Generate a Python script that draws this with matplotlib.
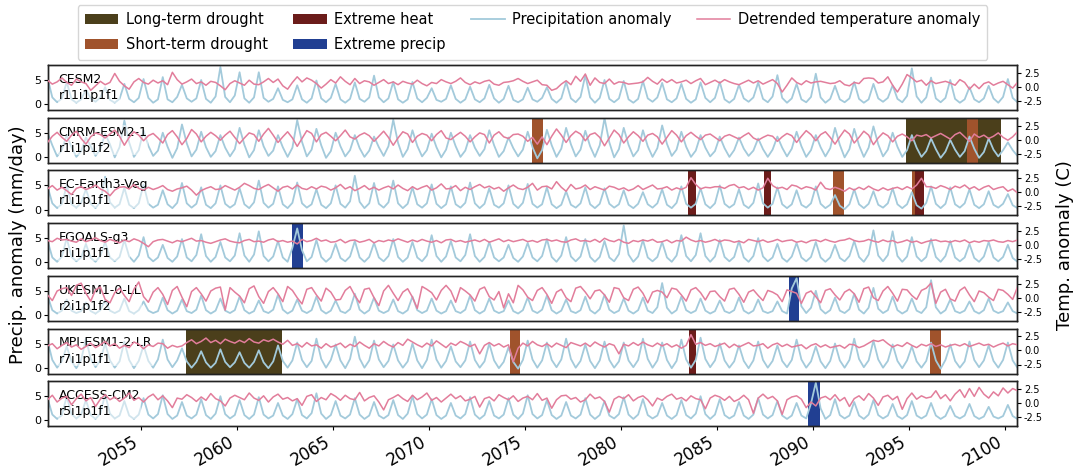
import numpy as np
import matplotlib
matplotlib.use("Agg")
import matplotlib.pyplot as plt
from matplotlib.patches import Patch
from matplotlib.lines import Line2D

# ---------------- data ----------------
MODELS = ["CESM2", "CNRM-ESM2-1", "EC-Earth3-Veg", "FGOALS-g3",
          "UKESM1-0-LL", "MPI-ESM1-2-LR", "ACCESS-CM2"]
MEMBERS = ["r11i1p1f1", "r1i1p1f2", "r1i1p1f1", "r1i1p1f1",
           "r2i1p1f2", "r7i1p1f1", "r5i1p1f1"]
FIRST_YEAR = 2050
SAMPLES_PER_YEAR = 4
XTICKS = [2055, 2060, 2065, 2070, 2075, 2080, 2085, 2090, 2095, 2100]

# precipitation anomaly (mm/day), quarterly samples 2050-2100
PR_CESM2 = [
 5.5,1.4,0.4,1.2, 4.6,1.0,0.3,1.0, 3.0,1.2,0.5,1.4, 3.5,0.9,0.3,1.1, 4.2,1.1,0.4,1.3,
 5.2,1.3,0.3,1.0, 5.6,1.0,0.4,1.5, 4.0,1.2,0.5,1.2, 5.0,1.1,0.3,1.6, 7.7,1.5,0.4,1.8,
 6.6,1.2,0.3,1.4, 6.6,1.3,0.5,1.1, 3.3,0.9,0.4,1.0, 3.9,1.0,0.3,1.2, 4.9,1.2,0.4,1.3,
 4.2,1.0,0.3,1.1, 4.5,1.1,0.5,1.4, 5.9,1.4,0.4,1.2, 4.6,1.0,0.3,1.0, 4.6,1.2,0.4,1.3,
 3.3,0.9,0.5,1.1, 3.9,1.1,0.3,1.0, 3.6,1.0,0.4,1.2, 4.0,1.2,0.3,1.1, 3.8,0.9,0.4,1.0,
 3.4,1.0,0.5,1.3, 3.5,1.1,0.3,1.2, 4.6,1.2,0.4,1.5, 6.0,1.4,0.3,1.3, 5.0,1.1,0.4,1.2,
 4.8,1.0,0.3,1.1, 4.8,1.2,0.5,1.4, 4.4,1.0,0.4,1.2, 4.2,1.1,0.3,1.0, 4.5,1.3,0.4,1.3,
 4.6,1.0,0.3,1.1, 4.0,1.2,0.5,1.4, 4.5,1.1,0.4,1.6, 6.0,1.3,0.3,1.2, 4.2,1.0,0.4,1.5,
 6.3,1.4,0.3,1.1, 3.8,1.0,0.4,1.2, 4.6,1.1,0.3,1.0, 4.2,1.2,0.5,1.3, 3.9,1.1,0.4,1.7,
 7.4,1.6,0.3,1.4, 5.5,1.2,0.4,1.3, 5.0,1.1,0.3,1.0, 3.5,1.0,0.4,1.2, 3.8,1.2,0.3,1.5,
 5.2,1.3,0.4,1.1]
PR_CNRM = [
 5.0,2.4,0.1,1.5, 4.5,2.0,0.0,1.2, 4.0,2.2,0.2,1.6, 4.8,2.6,-0.1,2.0, 7.5,3.0,0.0,1.4,
 5.5,2.3,0.2,1.3, 5.0,2.1,-0.2,1.8, 6.7,2.8,0.1,1.5, 5.2,2.0,0.0,1.2, 4.5,1.9,0.1,1.6,
 6.0,2.5,-0.1,1.4, 5.5,2.2,0.2,1.3, 4.5,2.0,0.0,1.9, 7.6,3.1,0.1,1.5, 5.8,2.4,-0.2,1.2,
 5.0,2.2,0.1,1.4, 4.5,1.8,0.0,1.3, 4.2,2.0,0.2,2.2, 7.7,2.9,0.0,1.6, 5.5,2.3,0.1,1.4,
 4.8,2.0,-0.1,1.5, 5.0,2.2,0.0,1.3, 4.5,1.9,0.2,1.6, 5.5,2.4,0.0,1.2, 4.0,1.8,0.1,1.5,
 5.2,2.0,-0.3,1.4, 5.6,2.4,0.0,1.7, 6.0,2.6,0.1,1.5, 5.4,2.2,0.0,2.4, 8.0,3.0,-0.1,1.6,
 6.0,2.5,0.1,1.4, 5.5,2.2,0.0,1.8, 6.5,2.7,0.2,1.5, 5.2,2.1,0.0,1.3, 4.5,1.9,0.1,1.2,
 4.2,1.8,0.0,1.4, 4.0,1.7,0.2,1.3, 3.8,1.6,0.0,1.5, 4.2,1.9,0.1,1.7, 5.2,2.2,0.0,1.4,
 4.5,2.0,0.1,1.8, 6.0,2.5,-0.1,1.6, 5.8,2.4,0.0,1.9, 6.3,2.6,0.1,1.5, 5.0,2.1,0.0,1.4,
 4.5,1.9,0.0,1.2, 3.8,1.6,-0.2,1.1, 3.5,1.5,0.0,1.2, 4.2,1.7,-0.2,1.0, 3.8,1.5,0.1,1.4,
 3.0,1.4,0.2,1.6]
PR_ECEARTH = [
 4.8,1.3,0.3,1.2, 5.0,1.1,0.4,1.4, 4.2,1.2,0.3,1.6, 6.8,1.5,0.4,1.1, 4.5,1.0,0.3,1.3,
 5.2,1.2,0.4,1.0, 4.0,1.1,0.3,1.4, 5.5,1.3,0.4,1.2, 4.6,1.0,0.3,1.3, 5.0,1.2,0.4,1.1,
 4.4,1.1,0.3,1.5, 6.0,1.4,0.4,1.2, 4.8,1.1,0.3,1.4, 5.6,1.3,0.4,1.1, 4.2,1.0,0.3,1.3,
 5.0,1.2,0.4,1.7, 7.0,1.6,0.3,1.3, 5.5,1.2,0.4,1.5, 6.0,1.3,0.3,1.2, 4.6,1.1,0.4,1.3,
 5.2,1.2,0.3,1.1, 4.8,1.1,0.4,1.4, 5.6,1.3,0.3,1.2, 4.4,1.0,0.4,1.3, 5.0,1.2,0.3,1.4,
 5.3,1.2,0.4,1.1, 4.6,1.1,0.3,1.0, 3.8,1.0,0.4,1.3, 4.6,1.1,0.3,1.2, 4.4,1.2,0.4,1.1,
 4.0,1.0,0.3,1.2, 3.6,1.1,0.4,1.3, 4.2,1.0,0.3,1.4, 4.8,1.2,0.4,1.2, 4.4,1.1,0.3,1.3,
 5.0,1.2,0.4,1.1, 4.2,1.0,0.3,1.4, 5.4,1.3,0.4,1.2, 4.6,1.1,0.3,1.1, 4.0,1.0,0.4,1.3,
 4.8,1.2,0.3,1.0, 3.0,0.8,0.1,1.1, 4.2,1.1,0.3,1.2, 3.8,1.0,0.4,1.3, 4.4,1.1,0.3,1.1,
 3.6,0.9,0.2,1.4, 4.8,1.2,0.3,1.2, 4.6,1.1,0.4,1.3, 4.2,1.0,0.3,1.1, 3.8,1.0,0.4,1.2,
 3.2,0.9,0.3,1.0]
PR_FGOALS = [
 4.5,1.0,0.1,1.2, 5.0,1.1,0.2,1.0, 3.8,0.9,0.1,1.3, 4.2,1.0,0.2,1.1, 4.6,1.2,0.1,1.4,
 5.2,1.1,0.2,1.0, 3.6,0.9,0.1,1.2, 4.8,1.0,0.2,1.5, 5.8,1.3,0.1,1.1, 4.2,1.0,0.2,1.4,
 6.0,1.4,0.1,1.6, 6.4,1.3,0.2,1.2, 4.4,1.0,0.1,3.0, 7.0,2.5,0.2,1.1, 4.6,1.1,0.1,1.0,
 3.8,0.9,0.2,1.2, 4.4,1.0,0.1,1.1, 4.0,1.0,0.2,1.3, 4.8,1.1,0.1,1.0, 4.2,1.0,0.2,1.4,
 5.6,1.3,0.1,1.2, 4.4,1.0,0.2,1.5, 5.8,1.3,0.1,1.1, 4.2,1.0,0.2,1.0, 3.6,0.9,0.1,1.2,
 4.0,1.0,0.2,1.3, 4.8,1.1,0.1,1.4, 5.2,1.2,0.2,1.2, 4.8,1.1,0.1,1.1, 4.4,1.0,0.2,1.7,
 7.6,1.6,0.1,1.2, 4.6,1.0,0.2,1.1, 4.2,1.0,0.1,1.4, 5.6,1.3,0.2,1.5, 6.0,1.3,0.1,1.2,
 4.6,1.1,0.2,1.1, 4.4,1.0,0.1,1.3, 5.0,1.2,0.2,1.0, 3.8,0.9,0.1,1.2, 4.0,1.0,0.2,1.1,
 4.2,1.0,0.1,1.0, 3.6,0.9,0.2,1.3, 4.4,1.1,0.1,1.6, 6.6,1.4,0.2,1.5, 6.4,1.3,0.1,1.2,
 5.2,1.2,0.2,1.1, 4.8,1.1,0.1,1.3, 4.4,1.0,0.2,1.0, 3.8,0.9,0.1,1.2, 4.2,1.0,0.2,1.1,
 3.6,0.9,0.1,1.0]
PR_UKESM = [
 4.0,1.0,0.3,0.9, 3.2,0.9,0.4,0.8, 2.6,0.8,0.3,1.0, 3.0,0.9,0.4,0.9, 3.4,0.8,0.3,1.0,
 2.8,0.9,0.4,0.8, 3.6,1.0,0.3,0.9, 3.2,0.8,0.4,1.1, 4.0,1.0,0.3,0.9, 3.4,0.9,0.4,1.0,
 3.8,1.0,0.3,0.8, 3.0,0.8,0.4,1.1, 4.2,1.1,0.3,0.9, 3.2,0.9,0.4,1.0, 3.8,1.0,0.3,0.9,
 3.0,0.8,0.4,1.2, 4.4,1.1,0.3,1.0, 3.6,0.9,0.4,0.9, 3.2,0.8,0.3,1.0, 3.8,1.0,0.4,0.9,
 3.4,0.9,0.3,0.8, 3.0,0.8,0.4,1.1, 4.0,1.0,0.3,0.9, 3.4,0.9,0.4,0.8, 3.0,0.8,0.3,1.0,
 3.6,0.9,0.4,1.1, 4.0,1.0,0.3,0.9, 3.2,0.8,0.4,1.0, 3.8,1.0,0.3,1.2, 4.2,1.1,0.4,0.9,
 3.4,0.9,0.3,1.0, 3.6,0.9,0.4,1.6, 6.6,1.5,0.3,1.0, 3.8,1.0,0.4,0.9, 3.4,0.9,0.3,0.8,
 3.0,0.8,0.4,1.0, 3.6,0.9,0.3,0.9, 3.2,0.8,0.4,0.8, 2.8,0.8,0.3,5.5, 7.6,1.8,0.4,1.5,
 5.0,1.2,0.3,1.0, 3.6,0.9,0.4,1.2, 4.4,1.1,0.3,1.5, 5.6,1.3,0.4,1.0, 3.8,1.0,0.3,0.9,
 3.4,0.9,0.4,1.6, 7.2,1.6,0.3,1.0, 3.2,0.8,0.4,0.9, 2.8,0.8,0.3,1.0, 3.4,0.9,0.4,0.8,
 2.6,0.8,0.3,1.0]
PR_MPI = [
 5.6,1.6,0.0,1.4, 4.4,1.3,-0.1,1.6, 6.0,1.8,0.1,1.5, 5.0,1.5,0.0,1.3, 5.4,1.6,-0.1,1.4,
 4.6,1.4,0.0,1.7, 5.8,1.7,0.1,1.5, 4.0,1.3,0.0,1.2, 3.4,1.1,0.0,1.0, 3.8,1.2,0.1,1.1,
 3.2,1.0,0.0,1.2, 3.6,1.1,-0.1,1.3, 4.6,1.4,0.0,1.5, 5.2,1.6,0.1,1.4, 6.0,1.8,0.0,1.6,
 4.8,1.5,-0.1,1.8, 6.4,1.9,0.0,1.5, 5.6,1.7,0.1,1.4, 4.8,1.5,0.0,1.3, 5.0,1.5,-0.1,1.6,
 5.8,1.7,0.0,1.4, 4.4,1.3,0.1,1.5, 5.4,1.6,0.0,1.3, 5.0,1.5,-0.1,1.2, 4.2,1.2,-0.2,1.6,
 5.6,1.7,0.0,1.5, 5.2,1.6,0.1,1.7, 6.0,1.8,0.0,1.4, 4.8,1.4,-0.1,1.5, 5.4,1.6,0.0,1.3,
 5.2,1.5,0.1,1.6, 6.0,1.8,0.0,1.5, 5.2,1.6,-0.1,1.4, 5.8,1.7,0.0,1.6, 6.2,1.8,0.1,1.5,
 5.0,1.5,0.0,1.3, 4.6,1.4,-0.1,1.5, 5.4,1.6,0.0,1.4, 4.6,1.4,0.1,1.6, 5.8,1.7,0.0,1.3,
 4.4,1.3,-0.1,1.4, 5.0,1.5,0.0,1.6, 6.0,1.8,0.1,1.5, 5.6,1.7,0.0,1.4, 4.8,1.4,-0.1,1.5,
 4.4,1.3,0.0,1.4, 5.2,1.5,-0.2,1.6, 4.8,1.4,0.0,1.3, 5.4,1.6,0.1,1.5, 4.6,1.4,0.0,1.6,
 5.2,1.5,0.0,1.4]
PR_ACCESS = [
 4.6,1.2,0.3,1.1, 5.0,1.3,0.4,1.2, 4.2,1.1,0.3,1.4, 5.4,1.4,0.4,1.0, 4.0,1.0,0.3,1.2,
 4.6,1.2,0.4,1.3, 5.2,1.3,0.3,1.0, 3.8,1.0,0.4,1.2, 4.4,1.1,0.3,1.4, 5.0,1.3,0.4,1.1,
 4.2,1.1,0.3,1.2, 4.8,1.2,0.4,1.0, 3.6,1.0,0.3,1.3, 4.4,1.1,0.4,1.5, 5.6,1.4,0.3,1.1,
 4.0,1.0,0.4,1.2, 4.6,1.2,0.3,1.0, 3.8,1.0,0.4,1.1, 4.2,1.1,0.3,1.4, 5.0,1.3,0.4,1.2,
 4.4,1.1,0.3,1.0, 3.6,1.0,0.4,1.3, 4.8,1.2,0.3,1.1, 4.0,1.0,0.4,1.2, 4.6,1.2,0.3,1.4,
 5.2,1.3,0.4,1.1, 4.2,1.1,0.3,1.0, 3.8,1.0,0.4,1.2, 4.6,1.2,0.3,1.1, 4.0,1.0,0.4,1.3,
 4.8,1.2,0.3,1.2, 4.4,1.1,0.4,1.0, 3.6,1.0,0.3,1.1, 4.2,1.1,0.4,1.4, 5.0,1.3,0.3,1.2,
 4.4,1.1,0.4,1.0, 3.8,1.0,0.3,1.2, 4.6,1.2,0.4,1.1, 4.0,1.0,0.3,1.0, 3.6,1.0,0.4,3.5,
 7.8,2.5,0.3,1.1, 4.4,1.1,0.4,1.0, 3.8,1.0,0.3,1.2, 4.2,1.1,0.4,1.0, 3.4,0.9,0.3,1.1,
 4.0,1.0,0.4,1.0, 3.6,1.0,0.3,0.9, 3.0,0.9,0.4,1.0, 3.4,0.9,0.3,0.8, 2.8,0.8,0.4,0.9,
 3.2,0.9,0.3,1.0]

# detrended temperature anomaly (C), quarterly samples 2050-2100
T_CESM2 = [
 1.2,0.5,0.9,1.6, 0.8,0.3,1.4,0.9, 0.6,-0.6,0.2,1.0, 0.4,0.8,2.4,1.0, 0.2,-0.4,0.9,1.5,
 0.8,0.5,1.2,0.7, 1.1,0.4,2.6,1.3, 0.5,0.9,1.4,0.6, 0.9,0.3,1.0,0.8, 0.2,-0.5,0.6,1.1,
 0.7,0.3,1.2,0.5, 0.4,0.9,1.5,0.8, 1.4,0.2,-0.4,0.8, 1.8,0.9,1.6,1.2, 0.6,-0.2,0.5,1.3,
 0.7,1.8,1.0,0.4, 1.5,0.6,1.1,0.9, 0.3,0.8,1.3,0.6, 0.9,0.4,1.0,0.7, 0.5,1.2,0.6,0.2,
 0.8,0.6,1.3,0.9, 0.6,1.0,1.6,0.8, 0.4,0.9,0.6,1.0, 1.2,0.5,0.3,0.8, 0.9,1.1,1.5,1.0,
 0.6,0.9,1.2,0.4, 0.3,-0.6,-0.3,0.5, 1.1,0.4,1.9,1.0, 2.3,0.3,1.6,0.8, 0.6,1.4,0.5,0.9,
 0.8,0.5,0.6,0.7, 0.9,1.7,1.0,0.5, 1.4,0.8,1.3,0.7, 0.9,1.2,0.6,1.1, 1.5,0.4,0.8,1.2,
 0.7,1.3,0.9,0.6, 0.4,0.8,1.2,0.7, 1.1,0.5,0.9,1.3, 0.6,-0.9,0.3,1.6, 0.8,0.4,1.1,0.7,
 0.9,1.0,0.8,0.6, 0.7,1.1,0.4,0.2, 0.8,0.6,1.5,1.6, 1.5,0.7,0.9,1.8, 0.3,-0.9,0.5,2.2,
 1.6,0.9,1.2,0.3, 1.1,0.6,0.8,1.0, 0.7,0.3,1.3,0.8, -0.4,0.5,-0.3,0.6, 0.9,0.3,0.7,1.0,
 0.4,-0.2,0.8,1.4]
T_CNRM = [
 -0.5,0.6,1.3,0.4, -0.3,0.8,1.5,0.2, -0.8,0.5,1.2,0.9, 0.3,1.0,1.7,0.6, -1.0,0.4,1.4,0.8,
 -0.2,0.7,1.1,0.3, -0.6,0.9,1.6,0.5, -0.9,0.2,1.8,1.0, -0.4,0.6,1.3,0.7, -0.1,0.8,1.5,0.4,
 -0.7,0.3,1.2,0.9, -0.3,1.0,2.0,0.8, -0.5,0.5,1.4,0.3, -1.2,0.2,1.6,1.1, -0.4,0.9,1.3,0.6,
 -0.2,0.7,1.7,0.5, 0.1,0.8,1.2,0.7, -0.3,0.6,1.5,0.4, -1.0,0.3,1.4,1.0, -0.5,0.6,1.1,0.8,
 -0.2,0.9,1.6,0.3, 0.0,0.7,1.3,0.6, -0.4,0.5,1.2,0.9, -0.6,0.8,1.4,0.5, 0.2,0.9,1.0,0.6,
 -0.3,0.4,-0.8,0.5, -0.9,0.6,1.9,0.8, -0.5,0.7,1.5,1.0, -0.2,0.9,1.2,0.4, -1.1,0.3,1.7,0.9,
 -0.6,0.5,1.4,0.7, -0.3,0.8,1.1,0.5, -0.8,0.4,1.6,0.8, -0.4,0.7,1.3,0.6, 0.0,0.8,1.0,0.4,
 -0.2,0.6,0.9,0.5, 0.1,0.7,1.2,0.3, -0.1,0.4,0.8,0.6, -0.3,0.5,1.1,0.7, -0.5,0.6,1.6,0.9,
 -0.2,0.9,1.4,0.4, -0.8,0.5,1.7,1.0, -0.6,0.4,1.5,0.8, -0.9,0.3,1.2,0.7, -0.4,0.6,1.0,0.5,
 -0.2,0.8,0.6,0.9, 0.3,0.7,1.1,0.6, 0.1,0.9,1.3,0.5, -0.3,1.0,0.4,0.8, 0.2,0.6,1.2,0.4,
 -0.1,0.5,1.4,1.0]
T_ECEARTH = [
 0.6,1.2,0.4,0.9, 0.3,-0.4,0.7,1.0, 0.5,0.8,1.3,0.6, 0.2,-0.6,0.4,0.9, 1.0,0.6,1.4,0.7,
 0.4,0.9,0.5,0.8, 1.2,0.5,0.2,0.6, 0.8,1.1,0.4,-0.5, 0.3,0.7,1.0,0.5, 0.6,1.2,0.8,0.4,
 0.9,1.6,1.2,0.7, 0.5,1.0,1.4,0.8, 0.2,0.9,1.1,0.6, 1.3,0.7,0.5,1.0, 0.6,1.1,0.9,0.4,
 0.8,1.4,0.6,1.0, 0.3,0.7,1.2,0.5, 0.9,0.4,0.8,1.1, 0.6,1.3,0.7,0.3, 1.0,0.5,0.9,1.2,
 0.4,0.8,1.5,0.6, 0.7,1.2,0.3,0.9, 0.5,1.0,1.4,0.8, 1.1,0.6,0.9,0.2, 0.8,1.3,0.7,0.5,
 0.9,1.6,0.4,1.0, 1.1,0.6,1.9,0.9, 0.2,1.4,0.6,0.8, 1.3,0.5,1.0,0.7, 0.4,1.1,0.9,0.5,
 0.8,0.3,0.6,1.2, 0.5,0.9,1.3,0.6, 0.7,1.0,0.4,0.8, 0.5,0.9,2.6,1.4, 0.6,0.9,0.8,1.0,
 1.0,0.7,1.2,1.4, 0.8,1.0,0.5,0.9, 0.4,0.8,2.5,1.2, 0.7,0.9,0.5,1.3, 1.1,0.6,1.0,0.8,
 0.4,1.8,0.7,0.5, 0.9,0.6,0.2,0.8, 0.4,0.9,0.5,1.1, 0.6,0.3,0.8,0.4, 0.7,0.9,0.5,1.0,
 0.6,1.3,2.5,1.0, 1.0,0.7,1.2,0.9, 0.5,1.1,0.8,1.3, 0.6,1.0,0.4,0.9, 1.2,0.5,0.8,1.0,
 0.2,0.6,-0.1,0.7]
T_FGOALS = [
 0.8,0.6,1.2,0.9, 1.0,0.7,0.5,1.1, 0.6,0.9,1.3,0.8, 0.5,1.0,0.7,0.4, 0.9,0.6,1.1,0.8,
 0.3,-0.3,0.6,0.9, 1.0,0.7,0.4,0.8, 0.6,0.9,1.2,0.7, 0.8,0.5,0.3,0.6, 0.9,1.1,0.7,0.5,
 0.4,0.8,1.0,0.6, 0.7,0.5,0.9,1.1, 0.6,0.8,0.5,0.7, 0.2,1.0,0.6,0.8, 1.2,0.7,0.9,0.5,
 0.6,1.0,0.4,0.8, 0.9,0.5,0.7,1.0, 0.4,0.8,0.6,0.9, 0.7,1.1,0.8,0.5, 0.9,0.6,1.0,0.7,
 0.5,0.8,0.4,0.9, 1.0,0.6,0.8,0.5, 0.7,0.9,0.6,1.0, 0.5,0.8,1.1,0.6, 0.9,0.6,0.8,1.0,
 0.6,0.8,0.5,0.9, 1.0,0.7,0.9,0.6, 0.5,0.9,1.1,0.7, 0.8,0.6,1.0,0.5, 1.2,0.8,0.6,1.0,
 0.5,0.3,0.8,0.6, 0.9,0.7,1.0,0.5, 0.6,0.9,0.4,0.8, 0.7,1.4,0.9,0.6, 0.8,0.5,0.7,1.0,
 0.6,0.9,0.8,0.5, 0.7,0.4,1.0,0.8, 0.6,0.9,0.5,0.7, 1.0,0.6,0.8,0.9, 0.5,0.7,0.4,0.8,
 0.9,0.6,1.0,0.7, 0.5,0.8,0.9,1.2, 0.8,0.6,0.7,1.0, 0.7,0.5,0.9,0.6, 0.8,0.4,0.6,0.9,
 0.5,0.7,0.3,0.6, 0.8,0.9,0.6,0.7, 0.5,0.8,0.6,0.9, 0.4,0.7,0.5,0.8, 0.7,0.9,0.6,0.5,
 0.8,0.6,0.9,0.7]
T_UKESM = [
 0.5,-0.5,1.2,1.6, 1.8,0.4,2.2,2.6, 0.8,-0.6,1.4,1.9, -0.3,-0.9,0.9,1.7, 0.4,-0.7,1.5,2.8,
 0.2,-0.8,1.0,1.8, 0.6,-1.2,1.3,2.0, 0.1,-1.6,1.1,1.8, 0.7,-0.6,1.2,1.7, 1.9,-2.2,1.8,1.0,
 0.3,-0.9,1.6,2.1, 0.2,-1.0,1.1,1.8, 0.7,-0.7,2.0,1.3, 0.0,-1.1,1.5,1.8, 0.5,-0.6,1.7,1.0,
 -0.4,-0.3,1.3,2.0, 0.4,-0.9,1.5,1.7, 0.0,-1.4,1.2,2.2, 0.8,-0.5,1.0,1.6, 0.1,-1.9,2.0,1.5,
 0.9,-0.4,1.3,2.2, 1.2,-0.8,1.8,1.2, 0.5,-0.6,1.5,1.9, 0.2,-0.4,1.1,-1.8, 0.7,-0.9,2.2,1.4,
 0.1,-0.5,1.3,1.8, 0.6,-1.0,1.0,1.5, 0.0,-0.7,1.7,2.0, 1.0,-0.2,1.2,1.4, 0.5,-0.8,1.8,1.6,
 0.0,-0.5,1.5,1.9, 0.8,-0.9,1.0,1.3, 1.0,0.0,1.7,1.5, 0.5,-0.6,1.4,1.8, 0.9,-0.4,1.1,1.2,
 0.2,-0.6,1.5,1.7, 0.6,-0.8,1.0,1.4, 0.4,-0.5,1.3,1.0, 0.5,-0.7,1.4,1.1, 0.8,-1.0,0.8,1.2,
 0.2,-0.9,1.3,1.6, 0.5,-0.4,1.0,1.5, 0.7,-0.8,1.6,1.9, 0.0,-0.5,1.2,2.0, 0.8,-0.6,1.5,1.4,
 0.4,-0.3,1.3,1.7, 2.6,-1.0,1.0,1.5, -0.2,-0.6,1.3,1.9, 0.5,-0.7,1.2,0.9, 0.1,-0.5,1.5,1.3,
 0.6,-0.3,1.9,1.7]
T_MPI = [
 0.8,1.2,0.3,0.9, 1.4,0.6,1.0,0.2, 0.7,1.3,0.5,1.0, 1.6,0.8,1.2,0.4, 0.9,0.5,1.5,1.1,
 0.3,1.0,0.7,1.3, 1.2,0.4,0.9,0.6, 0.8,1.4,1.9,1.2, 1.6,2.2,1.4,1.8, 1.2,2.0,1.6,1.3,
 1.8,1.4,2.1,1.5, 1.3,1.9,1.6,2.0, 1.5,1.1,1.8,0.9, 1.2,0.6,1.4,0.8, 1.0,0.4,1.2,0.6,
 0.9,1.3,0.5,1.1, 0.7,1.5,0.9,0.4, 1.2,0.8,1.6,1.0, 0.6,1.4,0.9,2.0, 1.5,1.0,0.6,1.3,
 0.8,1.7,1.1,0.5, 1.3,0.9,1.6,1.2, 0.7,1.1,-0.6,0.9, 1.4,0.8,1.2,0.6, 1.0,-2.0,0.4,1.3,
 0.8,1.6,1.0,0.7, 1.2,0.6,1.3,0.9, 0.5,1.4,1.1,0.8, 1.3,0.7,1.5,1.0, 0.6,1.2,0.9,-0.6,
 1.1,0.8,1.4,0.9, 1.5,1.0,0.7,1.3, 0.8,1.2,0.6,1.0, 0.4,0.9,2.8,1.1, 1.4,0.9,1.2,0.7,
 1.0,1.3,0.5,1.1, 0.6,1.0,1.4,0.8, 0.9,1.2,0.4,1.0, 1.3,0.7,1.1,0.6, 0.8,1.0,0.3,0.9,
 1.2,0.6,1.0,0.5, 0.7,0.9,0.4,1.1, 1.0,0.5,0.8,1.3, 1.8,1.6,1.9,1.2, 0.6,1.0,0.7,1.4,
 0.9,0.5,1.1,0.8, 1.2,0.7,1.0,0.6, 0.9,1.1,0.8,1.2, 0.7,1.0,1.3,0.9, 1.1,0.6,1.0,1.3,
 0.8,1.2,1.0,1.4]
T_ACCESS = [
 0.6,1.4,0.2,0.9, 1.2,-0.3,0.8,1.6, 0.4,1.0,-0.6,0.7, 1.5,0.6,1.1,0.3, 0.9,1.8,0.5,1.0,
 0.2,1.1,1.6,0.6, 1.3,0.4,-0.8,0.9, 0.7,1.5,1.0,0.3, 1.1,0.5,1.7,0.8, 0.4,-0.5,0.9,1.4,
 1.0,0.6,1.8,0.9, 0.5,1.3,0.2,1.1, 1.6,0.7,1.0,0.4, 0.8,-0.4,1.2,1.5, 0.3,1.0,0.6,1.7,
 1.2,0.5,1.4,0.8, 0.6,1.9,0.4,1.0, 1.3,0.2,-1.2,0.6, 1.0,1.5,0.8,0.3, 1.4,0.6,1.1,1.8,
 0.5,1.0,0.2,0.9, 1.6,0.8,1.3,0.4, 0.7,1.2,-0.7,0.8, 1.1,0.4,1.5,1.0, 0.6,1.3,0.3,0.9,
 1.2,0.6,1.7,0.5, 0.9,-0.9,0.6,1.3, 1.4,0.7,1.0,0.2, 0.6,1.6,0.8,1.1, 0.3,-1.6,0.7,1.2,
 0.8,1.5,0.4,1.0, 1.3,0.6,-0.5,0.9, 0.5,1.2,1.6,0.7, 1.0,0.4,1.3,0.8, 0.6,-1.0,0.9,1.4,
 1.1,0.5,1.2,0.3, 0.7,1.4,0.6,-1.8, 0.9,1.6,0.8,1.2, 0.4,-2.0,0.6,1.1, 1.3,0.7,-0.8,0.2,
 -0.5,0.9,1.2,0.6, 1.5,0.4,1.0,-0.6, 0.8,1.3,0.5,1.7, 0.9,-0.4,1.1,1.4, 0.6,1.2,-1.1,0.8,
 1.8,0.7,1.3,0.9, 1.1,2.2,0.8,1.5, 0.4,1.6,2.4,1.0, 2.6,1.2,2.8,1.6, 0.9,2.0,1.3,2.7,
 1.8,2.6,2.2,2.9]

PRECIP = [PR_CESM2, PR_CNRM, PR_ECEARTH, PR_FGOALS, PR_UKESM, PR_MPI, PR_ACCESS]
TEMP = [T_CESM2, T_CNRM, T_ECEARTH, T_FGOALS, T_UKESM, T_MPI, T_ACCESS]

# events: (model, start year, end year)
LONG_TERM_DROUGHT = [("CNRM-ESM2-1", 2094.83, 2099.79),
                     ("MPI-ESM1-2-LR", 2057.35, 2062.35)]
SHORT_TERM_DROUGHT = [("CNRM-ESM2-1", 2075.33, 2075.91),
                      ("CNRM-ESM2-1", 2098.01, 2098.59),
                      ("EC-Earth3-Veg", 2091.03, 2091.60),
                      ("EC-Earth3-Veg", 2095.15, 2095.72),
                      ("MPI-ESM1-2-LR", 2074.19, 2074.71),
                      ("MPI-ESM1-2-LR", 2096.08, 2096.66)]
EXTREME_HEAT = [("EC-Earth3-Veg", 2083.47, 2083.88),
                ("EC-Earth3-Veg", 2087.43, 2087.79),
                ("EC-Earth3-Veg", 2095.30, 2095.77),
                ("MPI-ESM1-2-LR", 2083.52, 2083.88)]
EXTREME_PRECIP = [("FGOALS-g3", 2062.87, 2063.45),
                  ("UKESM1-0-LL", 2088.73, 2089.25),
                  ("ACCESS-CM2", 2089.72, 2090.35)]

# ---------------- style ----------------
C_LONG = "#4b3f1b"
C_SHORT = "#a0532c"
C_HEAT = "#6b1c1a"
C_PREC = "#213f92"
C_PR_LINE = "#a3cadb"
C_T_LINE = "#e27d9b"

W, H = 1075, 475
fig = plt.figure(figsize=(W / 100, H / 100), dpi=100)

left_px, right_px = 48, 1017
panel_h = 45
tops = [65 + 52.7 * i for i in range(len(MODELS))]
XLIM = (2050.15, 2100.6)

event_sets = [(LONG_TERM_DROUGHT, C_LONG), (SHORT_TERM_DROUGHT, C_SHORT),
              (EXTREME_HEAT, C_HEAT), (EXTREME_PRECIP, C_PREC)]

for i, model in enumerate(MODELS):
    top = tops[i]
    ax = fig.add_axes([left_px / W, 1 - (top + panel_h) / H,
                       (right_px - left_px) / W, panel_h / H])
    pr = np.array(PRECIP[i], dtype=float)
    tt = np.array(TEMP[i], dtype=float)
    t_pr = FIRST_YEAR + (np.arange(len(pr)) + 0.5) / SAMPLES_PER_YEAR
    t_tt = FIRST_YEAR + (np.arange(len(tt)) + 0.5) / SAMPLES_PER_YEAR

    for events, col in event_sets:
        for (m, s, e) in events:
            if m == model:
                ax.axvspan(s, e, color=col, lw=0, zorder=0)

    ax.plot(t_pr, pr, color=C_PR_LINE, lw=1.3, zorder=2)
    ax.set_xlim(*XLIM)
    ax.set_ylim(-1.2, 8.1)
    ax.set_yticks([0, 5])
    ax.tick_params(axis="y", labelsize=8, length=3, pad=2)

    ax2 = ax.twinx()
    ax2.plot(t_tt, tt, color=C_T_LINE, lw=1.1, zorder=3)
    ax2.set_ylim(-4.1, 3.9)
    ax2.set_yticks([-2.5, 0.0, 2.5])
    ax2.set_yticklabels(["-2.5", "0.0", "2.5"])
    ax2.tick_params(axis="y", labelsize=7, length=3, pad=2)

    ax.text(0.011, 0.5, f"{model}\n{MEMBERS[i]}", transform=ax.transAxes,
            va="center", ha="left", fontsize=9, zorder=5, linespacing=1.3,
            bbox=dict(facecolor="white", alpha=0.5, edgecolor="none", pad=0.5))
    for a in (ax, ax2):
        for sp in a.spines.values():
            sp.set_linewidth(1.0)
            sp.set_color("#222222")

    ax.set_xticks(XTICKS)
    if i < len(MODELS) - 1:
        ax.tick_params(axis="x", bottom=False, labelbottom=False)
    else:
        ax.set_xticklabels([str(x) for x in XTICKS], rotation=30, ha="right",
                           fontsize=12)
        ax.tick_params(axis="x", length=3, pad=2)

fig.text(0.017, 0.485, "Precip. anomaly (mm/day)", rotation=90,
         va="center", ha="center", fontsize=13)
fig.text(0.991, 0.485, "Temp. anomaly (C)", rotation=90,
         va="center", ha="center", fontsize=13)

handles = [Patch(facecolor=C_LONG), Patch(facecolor=C_SHORT),
           Patch(facecolor=C_HEAT), Patch(facecolor=C_PREC),
           Line2D([], [], color=C_PR_LINE, lw=1.3),
           Line2D([], [], color=C_T_LINE, lw=1.1)]
labels = ["Long-term drought", "Short-term drought", "Extreme heat",
          "Extreme precip", "Precipitation anomaly",
          "Detrended temperature anomaly"]
fig.legend(handles, labels, loc="upper center", ncol=4, fontsize=10.5,
           bbox_to_anchor=((left_px + right_px) / 2 / W, 1 - 5 / H),
           frameon=True, borderaxespad=0.0, columnspacing=1.75,
           handlelength=2.3, handletextpad=0.5, labelspacing=0.7,
           borderpad=0.5)

fig.savefig("out.png", dpi=100)
